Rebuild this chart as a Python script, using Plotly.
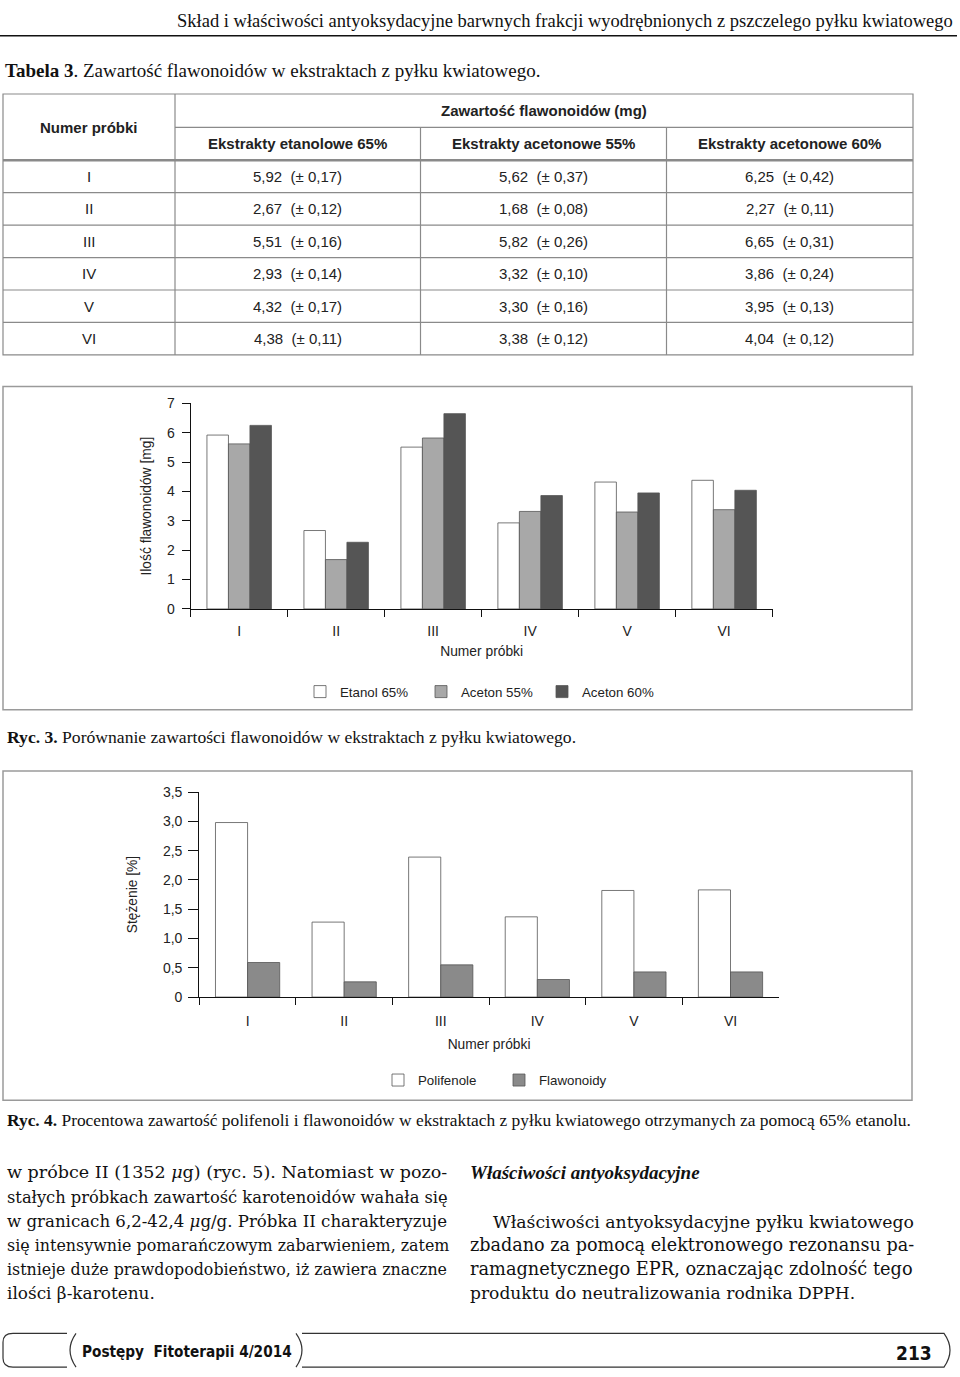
import plotly.graph_objects as go

W, H = 960, 1377
def X(px): return px / W
def Y(py): return 1 - py / H

# ---------------- data ----------------
samples = ["I", "II", "III", "IV", "V", "VI"]
etanol65 = [5.92, 2.67, 5.51, 2.93, 4.32, 4.38]
etanol65_sd = [0.17, 0.12, 0.16, 0.14, 0.17, 0.11]
aceton55 = [5.62, 1.68, 5.82, 3.32, 3.30, 3.38]
aceton55_sd = [0.37, 0.08, 0.26, 0.10, 0.16, 0.12]
aceton60 = [6.25, 2.27, 6.65, 3.86, 3.95, 4.04]
aceton60_sd = [0.42, 0.11, 0.31, 0.24, 0.13, 0.12]

table_cols = ["Ekstrakty etanolowe 65%", "Ekstrakty acetonowe 55%", "Ekstrakty acetonowe 60%"]

polifenole = [2.98, 1.28, 2.39, 1.37, 1.82, 1.83]
flawonoidy = [0.59, 0.26, 0.55, 0.30, 0.43, 0.43]

y1_ticks = [0, 1, 2, 3, 4, 5, 6, 7]
y2_tickvals = [0, 0.5, 1.0, 1.5, 2.0, 2.5, 3.0, 3.5]
y2_ticktext = ["0", "0,5", "1,0", "1,5", "2,0", "2,5", "3,0", "3,5"]

SANS = "Liberation Sans, Arial, sans-serif"
SERIF = "Liberation Serif, Times New Roman, serif"
BODY = "DejaVu Serif, serif"
TXT = "#222222"

fig = go.Figure()

bar_line = dict(color="#555555", width=0.8)
fig.add_trace(go.Bar(x=samples, y=etanol65, name="Etanol 65%", marker=dict(color="white", line=bar_line),
                     xaxis="x", yaxis="y", legend="legend"))
fig.add_trace(go.Bar(x=samples, y=aceton55, name="Aceton 55%", marker=dict(color="#a8a8a8", line=bar_line),
                     xaxis="x", yaxis="y", legend="legend"))
fig.add_trace(go.Bar(x=samples, y=aceton60, name="Aceton 60%", marker=dict(color="#555555", line=bar_line),
                     xaxis="x", yaxis="y", legend="legend"))

fig.add_trace(go.Bar(x=samples, y=polifenole, name="Polifenole", marker=dict(color="white", line=bar_line),
                     xaxis="x2", yaxis="y2", legend="legend2"))
fig.add_trace(go.Bar(x=samples, y=flawonoidy, name="Flawonoidy", marker=dict(color="#8a8a8a", line=bar_line),
                     xaxis="x2", yaxis="y2", legend="legend2"))

tick_font = dict(family=SANS, size=14, color=TXT)
title_font = dict(family=SANS, size=13.8, color=TXT)
leg_font = dict(family=SANS, size=13.3, color=TXT)

fig.update_layout(
    width=W, height=H, autosize=False,
    margin=dict(l=0, r=0, t=0, b=0),
    paper_bgcolor="white", plot_bgcolor="white",
    barmode="group", bargap=0.335, bargroupgap=0,
    showlegend=True,
    font=dict(family=SANS, color=TXT),
    xaxis=dict(domain=[X(190.7), X(772.6)], anchor="y", type="category",
               range=[-0.5, 5.5], showline=True, linecolor="#111", linewidth=1.3,
               ticks="outside", tickson="boundaries", ticklen=7, tickcolor="#111", tickwidth=1.3,
               tickfont=tick_font, showgrid=False, zeroline=False, ticklabelstandoff=9,
               title=dict(text="Numer próbki", font=title_font, standoff=8)),
    yaxis=dict(domain=[Y(608), Y(400)], anchor="x", range=[0, 7], tickvals=y1_ticks,
               showline=True, linecolor="#111", linewidth=1.3,
               ticks="outside", ticklen=8, tickcolor="#111", tickwidth=1.3,
               tickfont=tick_font, showgrid=False, zeroline=False, ticklabelstandoff=4,
               title=dict(text="Ilość flawonoidów [mg]", font=title_font, standoff=12)),
    xaxis2=dict(domain=[X(199.3), X(778.8)], anchor="y2", type="category",
                range=[-0.5, 5.5], showline=True, linecolor="#111", linewidth=1.3,
                ticks="outside", tickson="boundaries", ticklen=7, tickcolor="#111", tickwidth=1.3,
                tickfont=tick_font, showgrid=False, zeroline=False, ticklabelstandoff=11,
                title=dict(text="Numer próbki", font=title_font, standoff=11)),
    yaxis2=dict(domain=[Y(1000.7), Y(793.3)], anchor="x2", range=[0, 3.5],
                tickvals=y2_tickvals, ticktext=y2_ticktext,
                showline=True, linecolor="#111", linewidth=1.3,
                ticks="outside", ticklen=10, tickcolor="#111", tickwidth=1.3,
                tickfont=tick_font, showgrid=False, zeroline=False, ticklabelstandoff=3,
                title=dict(text="Stężenie [%]", font=title_font, standoff=22)),
    legend=dict(orientation="h", x=X(300), y=Y(692), xanchor="left", yanchor="middle",
                font=leg_font, entrywidth=76, entrywidthmode="pixels",
                bgcolor="rgba(0,0,0,0)", traceorder="normal"),
    legend2=dict(orientation="h", x=X(378), y=Y(1085), xanchor="left", yanchor="middle",
                 font=leg_font, entrywidth=76, entrywidthmode="pixels",
                 bgcolor="rgba(0,0,0,0)", traceorder="normal"),
)

shapes = []
ann = []

def line(x0, y0, x1, y1, color="#888888", width=1):
    shapes.append(dict(type="line", xref="paper", yref="paper", x0=X(x0), y0=Y(y0), x1=X(x1), y1=Y(y1),
                       line=dict(color=color, width=width)))

def text(x, y, s, size=13, family=SANS, xanchor="center", color=TXT):
    ann.append(dict(xref="paper", yref="paper", x=X(x), y=Y(y), text=s, showarrow=False,
                    xanchor=xanchor, yanchor="middle", font=dict(family=family, size=size, color=color)))

# running head
text(955, 13, "Skład i właściwości antyoksydacyjne barwnych frakcji wyodrębnionych z pszczelego pyłku kwiatowego",
     size=18.5, family=SERIF, xanchor="right", color="#111")
line(0, 28, 957, 28, color="#111", width=1.5)

# table caption
text(3, 63, "<b>Tabela 3</b>. Zawartość flawonoidów w ekstraktach z pyłku kwiatowego.", size=19,
     family=SERIF, xanchor="left", color="#111")

# table grid
tl, tr, tt, tb = 3, 913, 87, 351
c1, c2, c3 = 175, 420.5, 666.5
h1, h2 = 120.7, 154
row_h = (tb - h2) / len(samples)
gc = "#8a8a8a"
shapes.append(dict(type="rect", xref="paper", yref="paper", x0=X(tl), x1=X(tr), y0=Y(tt), y1=Y(tb),
                   line=dict(color=gc, width=1.2)))
line(c1, tt, c1, tb, gc, 1.2)
line(c2, h1, c2, tb, gc, 1.2)
line(c3, h1, c3, tb, gc, 1.2)
line(c1, h1, tr, h1, gc, 1.2)
line(tl, h2, tr, h2, gc, 2.4)
for i in range(1, len(samples)):
    line(tl, h2 + i * row_h, tr, h2 + i * row_h, gc, 1.2)

cx = [(tl + c1) / 2, (c1 + c2) / 2, (c2 + c3) / 2, (c3 + tr) / 2]
text(cx[0], (tt + h2) / 2, "<b>Numer próbki</b>", size=15)
text((c1 + tr) / 2, (tt + h1) / 2, "<b>Zawartość flawonoidów (mg)</b>", size=15)
for j, name in enumerate(table_cols):
    text(cx[j + 1], (h1 + h2) / 2, "<b>" + name + "</b>", size=15)

def fmt(v, sd):
    return (f"{v:.2f}  (± {sd:.2f})").replace(".", ",")

for i, s in enumerate(samples):
    yc = h2 + (i + 0.5) * row_h
    text(cx[0], yc, s, size=15)
    text(cx[1], yc, fmt(etanol65[i], etanol65_sd[i]), size=15)
    text(cx[2], yc, fmt(aceton55[i], aceton55_sd[i]), size=15)
    text(cx[3], yc, fmt(aceton60[i], aceton60_sd[i]), size=15)

# figure frames
for (y0, y1) in [(383, 710), (772, 1105)]:
    shapes.append(dict(type="rect", xref="paper", yref="paper", x0=X(3), x1=X(912), y0=Y(y0), y1=Y(y1),
                       line=dict(color="#9a9a9a", width=1.5), layer="below"))

# captions
text(5, 738, "<b>Ryc. 3.</b> Porównanie zawartości flawonoidów w ekstraktach z pyłku kwiatowego.",
     size=17.6, family=SERIF, xanchor="left", color="#111")
text(5, 1125, "<b>Ryc. 4.</b> Procentowa zawartość polifenoli i flawonoidów w ekstraktach z pyłku kwiatowego otrzymanych za pomocą 65% etanolu.",
     size=17.4, family=SERIF, xanchor="left", color="#111")

# body text (per-line size chosen so each justified line spans the column)
left_lines = [
    ("w próbce II (1352 <i>μ</i>g) (ryc. 5). Natomiast w pozo-", 17.55),
    ("stałych próbkach zawartość karotenoidów wahała się", 16.3),
    ("w granicach 6,2-42,4 <i>μ</i>g/g. Próbka II charakteryzuje", 16.6),
    ("się intensywnie pomarańczowym zabarwieniem, zatem", 15.9),
    ("istnieje duże prawdopodobieństwo, iż zawiera znaczne", 15.85),
    ("ilości β-karotenu.", 16.9),
]
left_y = [1178, 1203, 1228, 1252, 1276, 1300]
for (s, fs), yy in zip(left_lines, left_y):
    text(5, yy, s, size=fs, family=BODY, xanchor="left", color="#111")

text(468, 1178, "<b><i>Właściwości antyoksydacyjne</i></b>", size=19, family=SERIF, xanchor="left", color="#111")
right_lines = [
    (491, 1228, "Właściwości antyoksydacyjne pyłku kwiatowego", 17.25),
    (468, 1252, "zbadano za pomocą elektronowego rezonansu pa-", 17.6),
    (468, 1276, "ramagnetycznego EPR, oznaczając zdolność tego", 17.75),
    (468, 1300, "produktu do neutralizowania rodnika DPPH.", 17.1),
]
for xx, yy, s, fs in right_lines:
    text(xx, yy, s, size=fs, family=BODY, xanchor="left", color="#111")

# footer
def path(d, color="#333", width=1.2):
    shapes.append(dict(type="path", xref="paper", yref="paper", path=d, line=dict(color=color, width=width)))

def P(px, py):
    return f"{X(px):.5f},{Y(py):.5f}"

path(f"M{P(67,1341)} L{P(13,1341)} Q{P(3,1341)} {P(3,1350)} L{P(3,1366)} Q{P(3,1375)} {P(13,1375)} L{P(67,1375)}")
path(f"M{P(76,1341)} Q{P(64,1358)} {P(76,1375)}")
path(f"M{P(296,1341)} Q{P(308,1358)} {P(296,1375)}")
path(f"M{P(302,1341)} L{P(944,1341)} Q{P(956,1358)} {P(944,1375)} L{P(302,1375)}")
text(80, 1360, "<b>Postępy  Fitoterapii 4/2014</b>", size=15.2,
     family="Liberation Sans Narrow, DejaVu Sans Condensed, Liberation Sans, sans-serif",
     xanchor="left", color="#111")
text(934, 1361, "<b>213</b>", size=19,
     family="Liberation Sans Narrow, DejaVu Sans Condensed, Liberation Sans, sans-serif",
     xanchor="right", color="#111")

fig.update_layout(shapes=shapes, annotations=ann)
fig.write_html("out.html", config={"displayModeBar": False},
               post_script="document.body.style.margin='0';document.body.style.overflow='hidden';")
